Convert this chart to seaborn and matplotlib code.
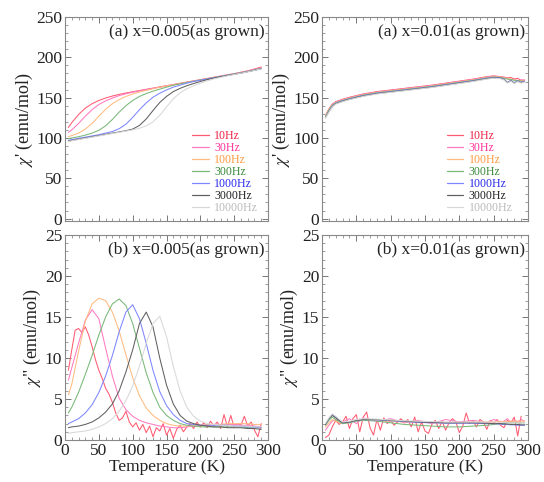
import pandas as pd
import matplotlib
matplotlib.use('Agg')
import matplotlib.pyplot as plt
import seaborn as sns
from matplotlib.lines import Line2D
from matplotlib.ticker import MultipleLocator, AutoMinorLocator

freqs = ['10Hz', '30Hz', '100Hz', '300Hz', '1000Hz', '3000Hz', '10000Hz']
line_colors = ['#ff5a70', '#ff7ac0', '#ffbb80', '#78b878', '#7c86ff', '#606060', '#d8d8d8']
text_colors = ['#ee2244', '#ff3399', '#ff9a40', '#3a8a3a', '#2a2aee', '#222222', '#bbbbbb']

# temperature grids (K)
temp = [5, 10, 20, 30, 40, 50, 60, 70, 80, 90, 100, 110, 120, 130, 140, 150,
        160, 170, 180, 190, 200, 210, 220, 230, 240, 250, 260, 270, 280, 290]
temp_fine = [5, 10, 15, 20, 25, 30, 35, 40, 45, 50, 55, 60, 65, 70, 75, 80, 85, 90,
             95, 100, 105, 110, 115, 120, 125, 130, 135, 140, 145, 150, 155, 160,
             165, 170, 175, 180, 185, 190, 195, 200, 205, 210, 215, 220, 225, 230,
             235, 240, 245, 250, 255, 260, 265, 270, 275, 280, 285, 290]
temp_r = [5, 10, 15, 20, 30, 40, 50, 60, 80, 100, 120, 140, 160, 180, 200, 220,
          240, 250, 260, 265, 270, 275, 280, 285, 290, 295]

# (a) x=0.005, chi'
re_a_10 = [113, 119, 129, 137, 142.5, 146.5, 149.5, 152, 154, 155.8, 157.3, 158.8, 160.3, 161.8, 163.3,
           164.8, 166.3, 167.8, 169.3, 170.8, 172.3, 173.8, 175.3, 176.8, 178.3, 179.8, 181.5, 183.3, 185.5, 188]
re_a_30 = [107, 110, 118, 127, 135, 141.5, 146, 149.5, 152.5, 154.8, 156.7, 158.4, 160, 161.5, 163,
           164.5, 166, 167.5, 169, 170.5, 172, 173.5, 175, 176.5, 178, 179.5, 181, 182.8, 184.8, 187]
re_a_100 = [101.5, 103, 106, 111, 118, 127, 135.5, 142.5, 147.5, 151.5, 154.5, 157, 159, 161, 162.8,
            164.4, 165.9, 167.4, 168.9, 170.4, 171.9, 173.4, 174.9, 176.4, 177.9, 179.4, 180.9, 182.6, 184.4, 186.5]
re_a_300 = [99, 100, 101.5, 103.5, 106, 109.5, 115, 123, 132, 140, 146.5, 151.5, 155, 158, 160.5,
            163, 165.3, 167.1, 168.7, 170.3, 171.8, 173.3, 174.8, 176.3, 177.8, 179.3, 180.8, 182.5, 184.3, 186.3]
re_a_1000 = [97, 98, 99.5, 101, 102.5, 104, 106, 108, 111.5, 117, 125.5, 135, 143.5, 150.5, 155.5,
             159.5, 163, 165.5, 168, 170, 171.6, 173.1, 174.6, 176.1, 177.6, 179.1, 180.6, 182.3, 184.1, 186.1]
re_a_3000 = [96, 97, 98.5, 100, 101.5, 103, 104.5, 106, 107.5, 109, 111, 115.5, 123.5, 134, 144,
             151.5, 157.5, 161.5, 164.8, 167.5, 170, 172.3, 174.2, 175.9, 177.5, 179, 180.5, 182.2, 184, 186]
re_a_10000 = [95.5, 96.5, 98, 99.5, 101, 102.5, 104, 105.5, 107, 108.5, 110, 112, 115, 120, 128,
              138.5, 148.5, 156, 161, 164.8, 168, 170.8, 173.2, 175.2, 177, 178.7, 180.3, 182, 183.8, 185.8]

# (b) x=0.005, chi''
im_a_10 = [8.5, 11.0, 13.4, 13.6, 13.1, 13.8, 12.8, 11.4, 9.8, 8.5, 7.5, 6.3, 5.6, 4.6, 3.3, 2.4, 2.7, 3.5,
           2.2, 1.6, 2.1, 1.2, 1.9, 0.9, 1.7, 0.4, 1.5, 1.1, 2.0, 0.6, 1.4, 0.2, 1.3, 1.8, 1.0, 1.6, 2.0, 1.4,
           2.2, 1.6, 2.1, 1.5, 2.3, 1.7, 2.2, 1.4, 3.1, 1.6, 3.0, 1.5, 2.0, 1.8, 2.9, 1.7, 2.2, 1.2, 0.4, 2.0]
im_a_30 = [7.3, 8.8, 11.8, 14.6, 15.9, 14.8, 11.2, 7.8, 5.1, 3.7, 2.9, 2.4, 2.1, 1.9, 1.7,
           1.6, 1.5, 1.5, 1.6, 1.7, 1.8, 1.8, 1.9, 1.9, 1.9, 1.9, 1.8, 1.8, 1.7, 1.6]
im_a_100 = [5.5, 6.8, 10.8, 14.5, 16.6, 17.3, 17.0, 15.6, 13.3, 10.4, 7.6, 5.4, 3.9, 3.0, 2.4,
            2.0, 1.8, 1.7, 1.7, 1.8, 1.8, 1.9, 1.9, 1.9, 2.0, 2.0, 2.0, 2.0, 1.9, 1.9]
im_a_300 = [3.3, 4.0, 5.8, 8.0, 10.3, 12.8, 15.0, 16.6, 17.2, 16.4, 14.2, 11.2, 8.2, 5.8, 4.0,
            3.0, 2.4, 2.0, 1.8, 1.7, 1.6, 1.6, 1.6, 1.6, 1.6, 1.6, 1.6, 1.5, 1.5, 1.5]
im_a_1000 = [2.0, 2.2, 2.6, 3.3, 4.3, 5.8, 7.8, 10.3, 13.2, 15.6, 16.5, 14.8, 11.8, 8.5, 5.9,
             4.2, 3.1, 2.4, 2.0, 1.9, 1.8, 1.8, 1.8, 1.8, 1.8, 1.7, 1.7, 1.6, 1.6, 1.5]
im_a_3000 = [1.5, 1.6, 1.7, 1.9, 2.2, 2.7, 3.4, 4.4, 6.0, 8.3, 11.0, 14.2, 15.6, 13.8, 10.0,
             6.7, 4.4, 3.0, 2.3, 2.0, 1.8, 1.7, 1.6, 1.6, 1.5, 1.5, 1.5, 1.4, 1.4, 1.3]
im_a_10000 = [0.8, 0.9, 1.0, 1.1, 1.3, 1.6, 2.0, 2.6, 3.5, 4.8, 6.6, 9.0, 11.8, 14.2, 15.1,
              12.6, 9.0, 6.0, 4.0, 2.9, 2.3, 2.0, 1.9, 1.8, 1.8, 1.7, 1.7, 1.7, 1.6, 1.6]

# (a) x=0.01, chi'
re_b_10 = [128, 136, 142, 145, 148, 150.5, 152.5, 154.5, 157.5, 159.5, 161.5, 163.5, 165.5,
           168, 170.5, 173, 176, 177, 176, 175.5, 174.5, 175, 173, 174, 171, 172]
re_b_30 = [127, 135, 141.5, 144.5, 147.5, 150, 152, 154, 157, 159, 161, 163, 165,
           167.5, 170, 172.5, 175.5, 176.5, 175.5, 175, 174, 172, 173.5, 170, 172.5, 171]
re_b_100 = [127.5, 135.5, 141, 144, 147, 149.5, 151.5, 153.5, 156.5, 158.5, 160.5, 162.5, 164.5,
            167, 169.5, 172, 175, 176, 175.5, 174.5, 173.5, 173, 172, 171.5, 171, 170.5]
re_b_300 = [126.5, 134.5, 140.5, 143.5, 146.5, 149, 151, 153, 156, 158, 160, 162, 164,
            166.5, 169, 171.5, 174.5, 175.5, 175, 174, 173, 172.5, 171.5, 171, 170.5, 170]
re_b_1000 = [125.5, 133, 139.5, 143, 146, 148.5, 150.5, 152.5, 155.5, 157.5, 159.5, 161.5, 163.5,
             166, 168.5, 171, 174, 175, 174.5, 173, 169, 171.5, 168.5, 171, 169, 170.5]
re_b_3000 = [125, 132.5, 139, 142.5, 145.5, 148, 150, 152, 155, 157, 159, 161, 163,
             165.5, 168, 170.5, 173.5, 174.5, 174, 172.5, 168.5, 171, 168, 170.5, 168.5, 170]
re_b_10000 = [125, 132, 138.5, 142, 145, 147.5, 149.5, 151.5, 154.5, 156.5, 158.5, 160.5, 162.5,
              165, 167.5, 170, 173, 174, 173.5, 172, 168, 170.5, 167.5, 170, 168, 169.5]

# (b) x=0.01, chi''
im_b_10 = [0.3, 0.6, 1.6, 2.4, 1.9, 2.2, 2.9, 1.4, 2.6, 3.1, 1.0, 2.8, 3.4, 1.5, 0.6, 2.5, 1.2, 2.7,
           2.0, 2.4, 1.8, 2.2, 2.6, 2.1, 2.5, 1.6, 2.8, 1.0, 2.2, 1.1, 0.8, 1.9, 2.4, 1.4, 2.3, 1.2, 2.1, 2.6,
           2.2, 0.9, 1.7, 3.3, 2.0, 2.3, 1.6, 2.5, 2.2, 1.3, 2.4, 2.0, 2.5, 1.8, 1.5, 2.4, 2.1, 2.8, 0.5, 2.9]
im_b_30 = [1.2, 1.8, 2.3, 2.5, 2.2, 2.6, 2.0, 2.7, 2.3, 2.6, 2.1, 2.4, 2.0,
           2.5, 2.2, 2.4, 2.1, 2.5, 2.2, 2.3, 2.6, 2.1, 2.4, 2.2, 2.5, 2.3]
im_b_100 = [1.6, 2.1, 2.5, 2.3, 2.0, 2.2, 2.4, 2.5, 2.4, 2.3, 2.2, 2.2, 2.1,
            2.1, 2.1, 2.2, 2.2, 2.2, 2.3, 2.2, 2.3, 2.3, 2.3, 2.3, 2.3, 2.3]
im_b_300 = [1.8, 2.4, 2.8, 2.5, 2.0, 2.1, 2.3, 2.4, 2.3, 2.1, 1.9, 1.8, 1.7,
            1.6, 1.6, 1.7, 1.8, 1.9, 2.0, 2.0, 2.1, 2.1, 2.1, 2.1, 2.1, 2.1]
im_b_1000 = [1.9, 2.6, 3.1, 2.8, 2.1, 2.2, 2.4, 2.5, 2.45, 2.35, 2.25, 2.15, 2.1,
             2.05, 2.05, 2.05, 2.0, 2.0, 1.95, 1.9, 1.9, 1.85, 1.85, 1.8, 1.8, 1.8]
im_b_3000 = [1.9, 2.6, 3.0, 2.7, 2.1, 2.2, 2.4, 2.5, 2.5, 2.4, 2.3, 2.2, 2.15,
             2.1, 2.1, 2.1, 2.05, 2.0, 2.0, 1.95, 1.95, 1.9, 1.9, 1.9, 1.85, 1.85]
im_b_10000 = [2.0, 2.7, 3.2, 2.9, 2.2, 2.3, 2.5, 2.6, 2.55, 2.45, 2.35, 2.3, 2.25,
              2.2, 2.2, 2.2, 2.2, 2.2, 2.15, 2.15, 2.1, 2.1, 2.1, 2.1, 2.1, 2.1]


def panel_frame(pairs):
    parts = [pd.DataFrame({'T': t, 'chi': v, 'freq': f}) for f, t, v in pairs]
    return pd.concat(parts, ignore_index=True)


df_ra = panel_frame([('10Hz', temp, re_a_10), ('30Hz', temp, re_a_30), ('100Hz', temp, re_a_100),
                     ('300Hz', temp, re_a_300), ('1000Hz', temp, re_a_1000),
                     ('3000Hz', temp, re_a_3000), ('10000Hz', temp, re_a_10000)])
df_ia = panel_frame([('10Hz', temp_fine, im_a_10), ('30Hz', temp, im_a_30), ('100Hz', temp, im_a_100),
                     ('300Hz', temp, im_a_300), ('1000Hz', temp, im_a_1000),
                     ('3000Hz', temp, im_a_3000), ('10000Hz', temp, im_a_10000)])
df_rb = panel_frame([('10Hz', temp_r, re_b_10), ('30Hz', temp_r, re_b_30), ('100Hz', temp_r, re_b_100),
                     ('300Hz', temp_r, re_b_300), ('1000Hz', temp_r, re_b_1000),
                     ('3000Hz', temp_r, re_b_3000), ('10000Hz', temp_r, re_b_10000)])
df_ib = panel_frame([('10Hz', temp_fine, im_b_10), ('30Hz', temp_r, im_b_30), ('100Hz', temp_r, im_b_100),
                     ('300Hz', temp_r, im_b_300), ('1000Hz', temp_r, im_b_1000),
                     ('3000Hz', temp_r, im_b_3000), ('10000Hz', temp_r, im_b_10000)])

sns.set_theme(style='ticks')
plt.rcParams['font.family'] = ['Liberation Serif', 'DejaVu Serif']
plt.rcParams['mathtext.fontset'] = 'stix'

fig = plt.figure(figsize=(5.44, 4.82), dpi=100)
ax_ra = fig.add_axes([0.1195, 0.5415, 0.3732, 0.4232])
ax_ia = fig.add_axes([0.1195, 0.0871, 0.3732, 0.4253])
ax_rb = fig.add_axes([0.5919, 0.5415, 0.3787, 0.4232])
ax_ib = fig.add_axes([0.5919, 0.0871, 0.3787, 0.4253])

palette = dict(zip(freqs, line_colors))
legend_handles = [Line2D([], [], color=c, lw=0.9) for c in line_colors]

panels = [
    (ax_ra, df_ra, (-3, 250), 50, "(a) x=0.005(as grown)", r"$\chi$' (emu/mol)", True),
    (ax_ia, df_ia, (0, 25), 5, "(b) x=0.005(as grown)", r'$\chi$" (emu/mol)', False),
    (ax_rb, df_rb, (-3, 250), 50, "(a) x=0.01(as grown)", r"$\chi$' (emu/mol)", True),
    (ax_ib, df_ib, (0, 25), 5, "(b) x=0.01(as grown)", r'$\chi$" (emu/mol)', False),
]

for ax, df, ylim, ystep, title, ylab, is_top in panels:
    sns.lineplot(data=df, x='T', y='chi', hue='freq', hue_order=freqs, palette=palette,
                 estimator=None, lw=0.75, legend=False, ax=ax)
    ax.set_xlim(0, 300)
    ax.set_ylim(*ylim)
    ax.xaxis.set_major_locator(MultipleLocator(50))
    ax.xaxis.set_minor_locator(AutoMinorLocator(5))
    ax.yaxis.set_major_locator(MultipleLocator(ystep))
    ax.yaxis.set_minor_locator(AutoMinorLocator(5))
    ax.tick_params(which='both', direction='in', top=True, right=True,
                   labelsize=12.5, colors='#777777', labelcolor='#222222', pad=2)
    ax.tick_params(which='major', length=4, width=0.7)
    ax.tick_params(which='minor', length=2, width=0.5)
    for sp in ax.spines.values():
        sp.set_color('#888888')
        sp.set_linewidth(0.8)
    ax.set_ylabel(ylab, fontsize=13, color='#222222', labelpad=1)
    ax.text(0.985, 0.965, title, transform=ax.transAxes, ha='right', va='top',
            fontsize=12.5, color='#222222')
    if is_top:
        ax.tick_params(labelbottom=False)
        ax.set_xlabel('')
        leg = ax.legend(legend_handles, freqs, loc='lower right',
                        bbox_to_anchor=(0.95 if ax is ax_ra else 0.925, 0.035),
                        frameon=False, fontsize=8.6, handlelength=1.4, handletextpad=0.45,
                        labelspacing=0.0, borderpad=0, borderaxespad=0)
        for txt, c in zip(leg.get_texts(), text_colors):
            txt.set_color(c)
    else:
        ax.set_xlabel('Temperature (K)', fontsize=12.5, color='#222222', labelpad=0)

fig.savefig('out.png', dpi=100)
